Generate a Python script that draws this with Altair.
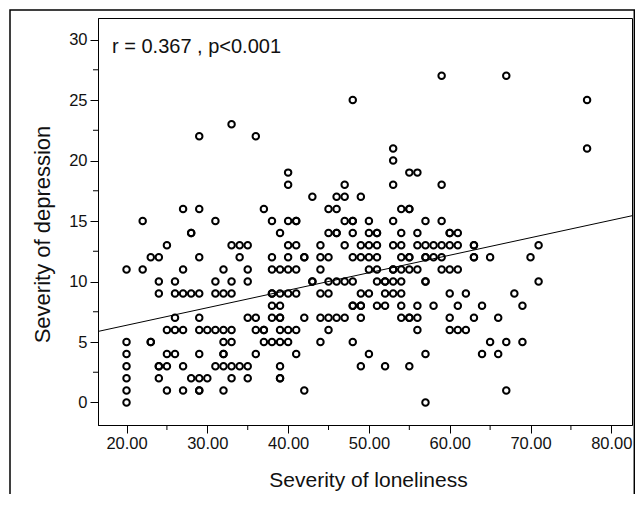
import altair as alt
import pandas as pd

# Severity of loneliness (x) for each observed severity of depression (y)
lon_dep0 = [20, 57]
lon_dep1 = [20, 25, 27, 29, 29, 32, 42, 67]
lon_dep2 = [20, 24, 28, 29, 30, 33, 35, 39, 39]
lon_dep3 = [20, 24, 24, 25, 27, 31, 32, 33, 34, 35, 39, 49, 52, 55]
lon_dep4 = [20, 25, 26, 29, 32, 32, 36, 41, 50, 57, 64, 66]
lon_dep5 = [20, 23, 23, 32, 33, 37, 38, 39, 40, 44, 48, 65, 67, 69]
lon_dep6 = [25, 26, 27, 29, 30, 31, 32, 33, 36, 37, 37, 39, 40, 41, 45, 56, 60, 61, 62]
lon_dep7 = [26, 29, 35, 36, 38, 39, 39, 42, 44, 45, 46, 47, 49, 54, 55, 55, 56, 60, 63, 66]
lon_dep8 = [38, 39, 48, 48, 49, 49, 51, 52, 54, 56, 58, 61, 64, 69]
lon_dep9 = [24, 26, 27, 28, 29, 31, 32, 33, 38, 38, 39, 40, 41, 44, 45, 49, 50, 52, 53, 54, 60, 62, 68]
lon_dep10 = [24, 26, 31, 33, 35, 43, 43, 45, 46, 47, 48, 51, 52, 52, 53, 54, 57, 57, 71]
lon_dep11 = [20, 22, 27, 32, 35, 38, 39, 40, 41, 44, 50, 51, 53, 53, 54, 55, 56, 59, 60, 61]
lon_dep12 = [23, 24, 29, 34, 38, 40, 42, 42, 44, 45, 48, 49, 50, 51, 54, 55, 55, 57, 57, 58, 59, 63, 63, 65, 70]
lon_dep13 = [25, 33, 34, 35, 40, 41, 44, 47, 49, 50, 51, 53, 54, 56, 57, 58, 59, 60, 61, 63, 63, 71]
lon_dep14 = [28, 28, 39, 45, 46, 46, 48, 50, 51, 51, 54, 56, 60, 60, 61]
lon_dep15 = [22, 31, 38, 40, 41, 41, 47, 48, 48, 50, 53, 57, 59]
lon_dep16 = [27, 29, 37, 45, 46, 54, 55, 55]
lon_dep17 = [43, 46, 47, 49]
lon_dep18 = [40, 47, 53, 59]
lon_dep19 = [40, 55, 56]
lon_dep20 = [53]
lon_dep21 = [53, 77]
lon_dep22 = [29, 36]
lon_dep23 = [33]
lon_dep25 = [48, 77]
lon_dep27 = [59, 67]

groups = {
    0: lon_dep0, 1: lon_dep1, 2: lon_dep2, 3: lon_dep3, 4: lon_dep4, 5: lon_dep5,
    6: lon_dep6, 7: lon_dep7, 8: lon_dep8, 9: lon_dep9, 10: lon_dep10, 11: lon_dep11,
    12: lon_dep12, 13: lon_dep13, 14: lon_dep14, 15: lon_dep15, 16: lon_dep16,
    17: lon_dep17, 18: lon_dep18, 19: lon_dep19, 20: lon_dep20, 21: lon_dep21,
    22: lon_dep22, 23: lon_dep23, 25: lon_dep25, 27: lon_dep27,
}

# fitted linear regression line
fit_intercept = 3.49
fit_slope = 0.1447

x_ticks = [20, 30, 40, 50, 60, 70, 80]
x_minor = [25, 35, 45, 55, 65, 75]
y_ticks = [0, 5, 10, 15, 20, 25, 30]
y_minor = [2.5, 7.5, 12.5, 17.5, 22.5, 27.5]
annotation = "r = 0.367 , p<0.001"

X_DOMAIN = [16.47, 82.56]
Y_DOMAIN = [-1.86, 31.78]

rows = []
for dep, lons in groups.items():
    for lon in lons:
        rows.append({"loneliness": lon, "depression": dep})
df = pd.DataFrame(rows)

FONT = "Liberation Sans, Arial"
xs = alt.Scale(domain=X_DOMAIN, nice=False, zero=False)
ys = alt.Scale(domain=Y_DOMAIN, nice=False, zero=False)
x_axis = alt.Axis(values=x_ticks, format=".2f", title="Severity of loneliness",
                  grid=False, tickSize=8, labelPadding=2, titlePadding=18, titleX=270)
y_axis = alt.Axis(values=y_ticks, format="d", title="Severity of depression",
                  grid=False, tickSize=8, labelPadding=3, titlePadding=14,
                  titleFontSize=22, titleY=216)

points = alt.Chart(df).mark_point(
    shape="circle", filled=False, color="black", size=42, strokeWidth=2, opacity=1
).encode(
    x=alt.X("loneliness:Q", scale=xs, axis=x_axis),
    y=alt.Y("depression:Q", scale=ys, axis=y_axis),
)

fit = alt.Chart(pd.DataFrame({"loneliness": X_DOMAIN})).transform_calculate(
    depression=f"{fit_intercept} + {fit_slope} * datum.loneliness"
).mark_line(color="black", strokeWidth=1).encode(
    x=alt.X("loneliness:Q", scale=xs, axis=x_axis),
    y=alt.Y("depression:Q", scale=ys, axis=y_axis),
)

xminor = alt.Chart(pd.DataFrame({"loneliness": x_minor})).mark_rule(
    color="black", strokeWidth=1
).encode(
    x=alt.X("loneliness:Q", scale=xs, axis=x_axis),
    y=alt.value(407),
    y2=alt.value(412),
)
yminor = alt.Chart(pd.DataFrame({"depression": y_minor})).mark_rule(
    color="black", strokeWidth=1
).encode(
    y=alt.Y("depression:Q", scale=ys, axis=y_axis),
    x=alt.value(0),
    x2=alt.value(-5),
)

note = alt.Chart(pd.DataFrame({"t": [annotation]})).mark_text(
    align="left", baseline="middle", fontSize=20, font=FONT, color="#111"
).encode(text="t:N", x=alt.value(14), y=alt.value(29))

frame = alt.Chart(pd.DataFrame({"a": [0]})).mark_rect(
    fill="transparent", stroke="black", strokeWidth=1.5
).encode(x=alt.value(-88), x2=alt.value(536.3), y=alt.value(-8), y2=alt.value(510))

chart = alt.layer(frame, points, fit, xminor, yminor, note).properties(
    width=534, height=407,
    autosize=alt.AutoSizeParams(type="none"),
    padding={"left": 90, "top": 10, "right": 3, "bottom": 69},
).configure_view(
    stroke="black", strokeWidth=1
).configure_axis(
    domainColor="black", tickColor="black", labelColor="#111", titleColor="#111",
    labelFont=FONT, titleFont=FONT, labelFontSize=16.5, titleFontSize=21,
    titleFontWeight="normal", domainWidth=1, tickWidth=1,
)

chart.save("out.html", embed_options={"renderer": "svg", "actions": False})
